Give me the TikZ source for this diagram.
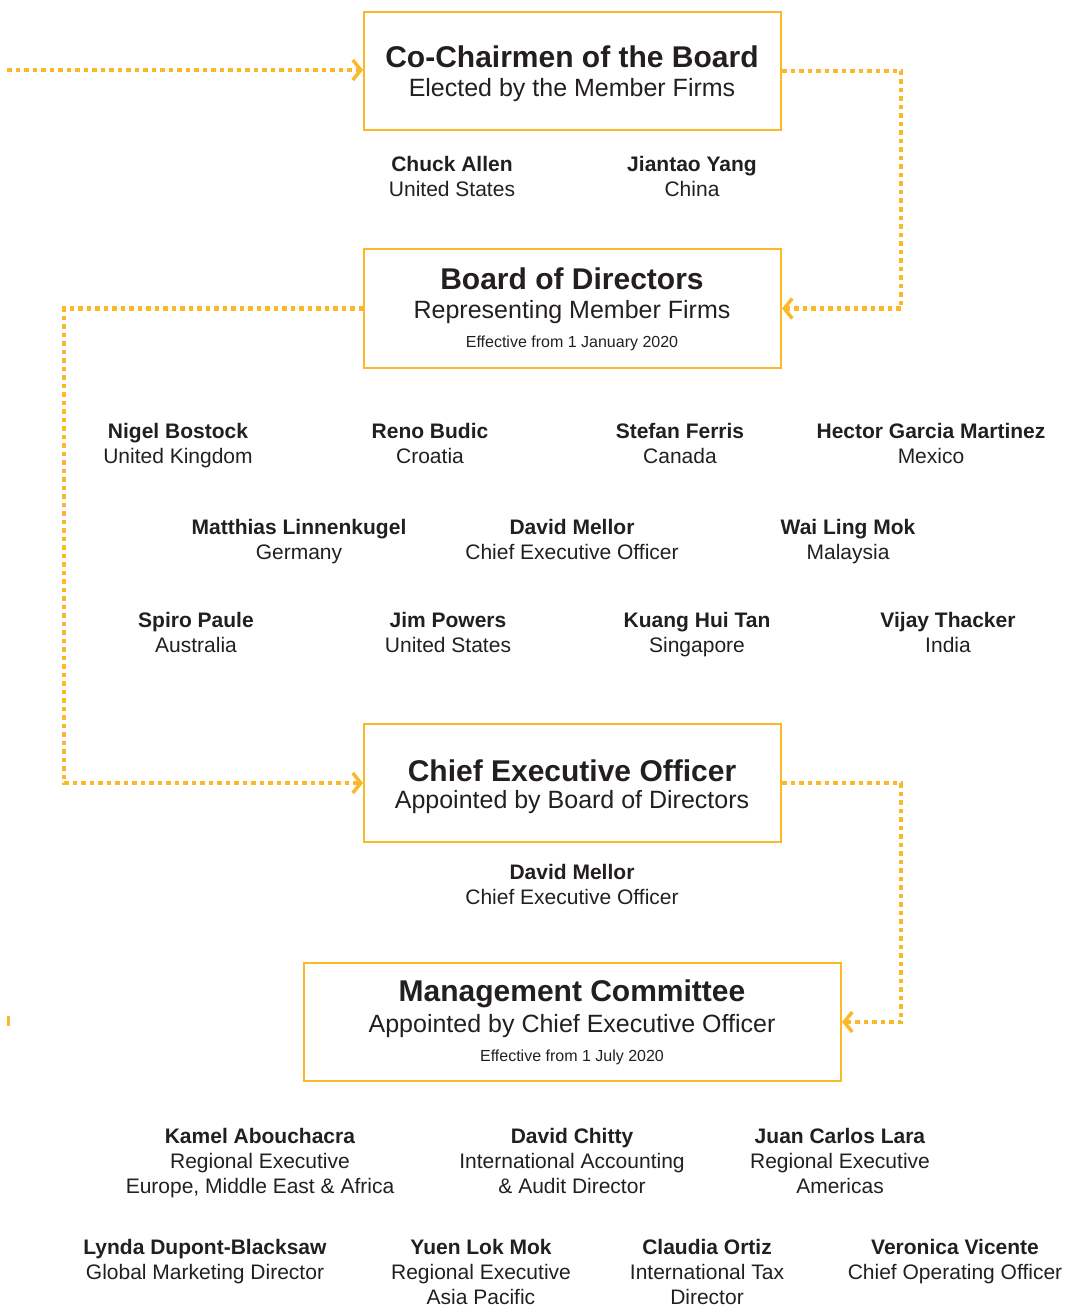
\documentclass[tikz,border=0pt]{standalone}
\usepackage{fontspec}
\setmainfont{Liberation Sans}
\usetikzlibrary{arrows.meta}
\definecolor{gold}{HTML}{FBB829}
\definecolor{ink}{HTML}{231F20}
\begin{document}
\begin{tikzpicture}[x=1pt,y=-1pt,
  box/.style={draw=gold, line width=2pt, inner sep=0pt},
  ttl/.style={text=ink, font=\fontsize{30}{32}\selectfont\bfseries, inner sep=0pt, anchor=center},
  sub/.style={text=ink, font=\fontsize{25}{30}\selectfont, inner sep=0pt, anchor=center},
  eff/.style={text=ink, font=\fontsize{16}{20}\selectfont, inner sep=0pt, anchor=center},
  person/.style={text=ink, font=\fontsize{21}{25}\selectfont, align=center, inner sep=0pt, anchor=north},
  link/.style={draw=gold, line width=4.5pt, dash pattern=on 4.5pt off 4pt},
  tip/.style={-{Straight Barb[length=8pt,width=20pt,line width=3.5pt]}}
]
\useasboundingbox (0,0) rectangle (1068,1308);

% boxes
\node[box, minimum width=417pt, minimum height=118pt] (b1) at (572.5,71) {};
\node[box, minimum width=417pt, minimum height=119pt] (b2) at (572.5,308.5) {};
\node[box, minimum width=417pt, minimum height=118pt] (b3) at (572.5,783) {};
\node[box, minimum width=537pt, minimum height=118pt] (b4) at (572.5,1022) {};

% box texts
\node[ttl] (t1) at (572,57) {Co-Chairmen of the Board};
\node[sub] (s1) at (572,90) {Elected by the Member Firms};
\node[ttl] (t2) at (572,279) {Board of Directors};
\node[sub] (s2) at (572,312) {Representing Member Firms};
\node[eff] (e2) at (572,343) {Effective from 1 January 2020};
\node[ttl] (t3) at (572,771) {Chief Executive Officer};
\node[sub] (s3) at (572,802) {Appointed by Board of Directors};
\node[ttl] (t4) at (572,994) {Management Committee};
\node[sub] (s4) at (572,1026) {Appointed by Chief Executive Officer};
\node[eff] (e4) at (572,1057) {Effective from 1 July 2020};

% co-chairmen
\node[person] (p1) at (452,156) {\textbf{Chuck Allen}\\United States};
\node[person] (p2) at (692,156) {\textbf{Jiantao Yang}\\China};

% board
\node[person] (d1) at (178,423) {\textbf{Nigel Bostock}\\United Kingdom};
\node[person] (d2) at (430,423) {\textbf{Reno Budic}\\Croatia};
\node[person] (d3) at (680,423) {\textbf{Stefan Ferris}\\Canada};
\node[person] (d4) at (931,423) {\textbf{Hector Garcia Martinez}\\Mexico};
\node[person] (d5) at (299,519) {\textbf{Matthias Linnenkugel}\\Germany};
\node[person] (d6) at (572,519) {\textbf{David Mellor}\\Chief Executive Officer};
\node[person] (d7) at (848,519) {\textbf{Wai Ling Mok}\\Malaysia};
\node[person] (d8) at (196,612) {\textbf{Spiro Paule}\\Australia};
\node[person] (d9) at (448,612) {\textbf{Jim Powers}\\United States};
\node[person] (d10) at (697,612) {\textbf{Kuang Hui Tan}\\Singapore};
\node[person] (d11) at (948,612) {\textbf{Vijay Thacker}\\India};

% CEO
\node[person] (c1) at (572,864) {\textbf{David Mellor}\\Chief Executive Officer};

% management committee
\node[person] (m1) at (260,1128) {\textbf{Kamel Abouchacra}\\Regional Executive\\Europe, Middle East \& Africa};
\node[person] (m2) at (572,1128) {\textbf{David Chitty}\\International Accounting\\\& Audit Director};
\node[person] (m3) at (840,1128) {\textbf{Juan Carlos Lara}\\Regional Executive\\Americas};
\node[person] (m4) at (205,1239) {\textbf{Lynda Dupont-Blacksaw}\\Global Marketing Director};
\node[person] (m5) at (481,1239) {\textbf{Yuen Lok Mok}\\Regional Executive\\Asia Pacific};
\node[person] (m6) at (707,1239) {\textbf{Claudia Ortiz}\\International Tax\\Director};
\node[person] (m7) at (955,1239) {\textbf{Veronica Vicente}\\Chief Operating Officer};

% connectors
\coordinate (start) at (7,70);
\draw[link,tip] (start) -- (b1.west |- start);
\draw[link,tip] (b1.east) -- (901,71) -- (901,308.5) -- (b2.east);
\draw[link,tip] (b2.west) -- (64,308.5) -- (64,783) -- (b3.west);
\draw[link,tip] (b3.east) -- (901,783) -- (901,1022) -- (b4.east);
\coordinate (stub) at (8,1021);
\draw[gold, line width=3pt] (stub) -- ++(0,-5) -- ++(0,10);
\end{tikzpicture}
\end{document}
